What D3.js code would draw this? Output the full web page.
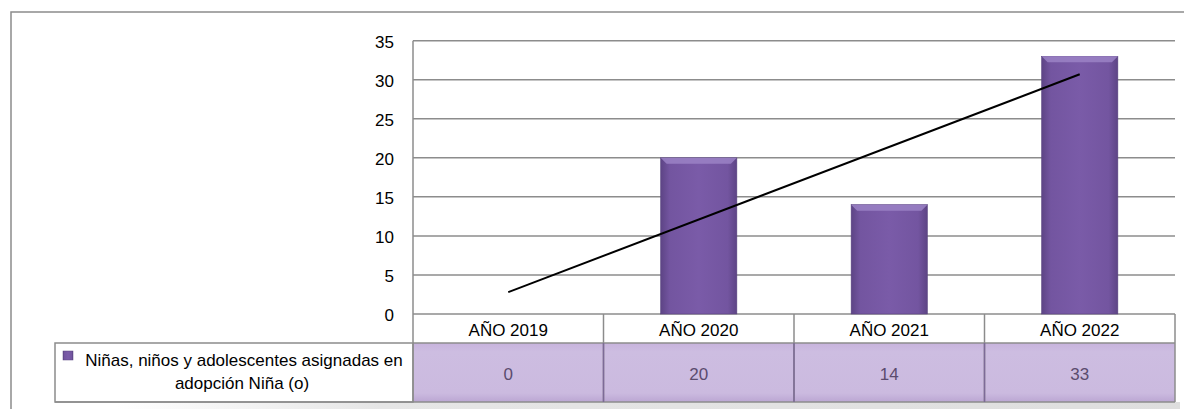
<!DOCTYPE html>
<html>
<head>
<meta charset="utf-8">
<script src="https://cdn.jsdelivr.net/npm/d3@7"></script>
<style>
  body { margin: 0; background: #fff; }
  text { font-family: "Liberation Sans", Arial, sans-serif; }
</style>
</head>
<body>
<script>
var categories = ["AÑO 2019", "AÑO 2020", "AÑO 2021", "AÑO 2022"];
var values = [0, 20, 14, 33];
var yTicks = [0, 5, 10, 15, 20, 25, 30, 35];
var seriesName = ["Niñas, niños y adolescentes asignadas en", "adopción Niña (o)"];

var svgWidth = 1184;
var svgHeight = 409;

var plot = { left: 413, right: 1175, top: 40.7, bottom: 314 };
var rowLabelBottom = 343;
var rowValueBottom = 402;
var legendLeft = 55;

var svg = d3.select("body")
  .append("svg")
  .attr("width", svgWidth)
  .attr("height", svgHeight);

var defs = svg.append("defs");

// bar gradient: darker at the sides
var barGrad = defs.append("linearGradient").attr("id", "barGrad")
  .attr("x1", "0").attr("x2", "1").attr("y1", "0").attr("y2", "0");
barGrad.append("stop").attr("offset", "0%").attr("stop-color", "#5d4485");
barGrad.append("stop").attr("offset", "12%").attr("stop-color", "#7355a0");
barGrad.append("stop").attr("offset", "50%").attr("stop-color", "#7a5ba8");
barGrad.append("stop").attr("offset", "88%").attr("stop-color", "#7355a0");
barGrad.append("stop").attr("offset", "100%").attr("stop-color", "#5d4485");

var rowGrad = defs.append("linearGradient").attr("id", "rowGrad")
  .attr("x1", "0").attr("x2", "0").attr("y1", "0").attr("y2", "1");
rowGrad.append("stop").attr("offset", "0%").attr("stop-color", "#c7b3dd");
rowGrad.append("stop").attr("offset", "15%").attr("stop-color", "#cdbde1");
rowGrad.append("stop").attr("offset", "85%").attr("stop-color", "#cbbadf");
rowGrad.append("stop").attr("offset", "100%").attr("stop-color", "#bba6d3");

var shadowGrad = defs.append("linearGradient").attr("id", "shadowGrad")
  .attr("x1", "0").attr("x2", "1").attr("y1", "0").attr("y2", "0");
shadowGrad.append("stop").attr("offset", "0%").attr("stop-color", "#ffffff");
shadowGrad.append("stop").attr("offset", "25%").attr("stop-color", "#e6e6e6");
shadowGrad.append("stop").attr("offset", "100%").attr("stop-color", "#dedede");

// outer chart border
svg.append("rect")
  .attr("x", 11).attr("y", 12)
  .attr("width", 1200).attr("height", 420)
  .attr("fill", "none")
  .attr("stroke", "#8c8c8c")
  .attr("stroke-width", 1.5);

// scales
var xCol = d3.scaleBand()
  .domain(categories)
  .range([plot.left, plot.right])
  .padding(0);

var xBar = d3.scaleBand()
  .domain(categories)
  .range([plot.left, plot.right])
  .paddingInner(0.6)
  .paddingOuter(0.3);

var y = d3.scaleLinear()
  .domain([0, 35])
  .range([plot.bottom, plot.top]);

// gridlines
svg.append("g")
  .selectAll("line")
  .data(yTicks)
  .enter()
  .append("line")
  .attr("x1", plot.left)
  .attr("x2", plot.right)
  .attr("y1", function (d) { return y(d); })
  .attr("y2", function (d) { return y(d); })
  .attr("stroke", "#8c8c8c")
  .attr("stroke-width", 1.5);

// y axis (labels only, line drawn below)
var leftAxis = d3.axisLeft(y)
  .tickValues(yTicks)
  .tickSize(0)
  .tickPadding(19);

var yAxisG = svg.append("g")
  .attr("transform", "translate(" + plot.left + ",0)")
  .call(leftAxis);
yAxisG.select(".domain").remove();
yAxisG.selectAll("text")
  .attr("dy", "0.38em")
  .style("font-size", "17px")
  .style("font-family", "'Liberation Sans', Arial, sans-serif")
  .attr("fill", "#000");

// bars
var bars = svg.append("g")
  .selectAll("g")
  .data(values)
  .enter()
  .append("g");

bars.append("rect")
  .attr("x", function (d, i) { return xBar(categories[i]); })
  .attr("y", function (d) { return y(d); })
  .attr("width", xBar.bandwidth())
  .attr("height", function (d) { return y(0) - y(d); })
  .attr("fill", "url(#barGrad)")
  .attr("stroke", "#5a4480")
  .attr("stroke-width", 0.6);

// top bevel highlight
bars.filter(function (d) { return d > 0; })
  .append("path")
  .attr("d", function (d, i) {
    var x0 = xBar(categories[values.indexOf(d)]);
    var w = xBar.bandwidth();
    var t = y(d);
    return "M" + x0 + "," + t + "L" + (x0 + w) + "," + t +
      "L" + (x0 + w - 6) + "," + (t + 6) + "L" + (x0 + 6) + "," + (t + 6) + "Z";
  })
  .attr("fill", "#9b82c6")
  .attr("opacity", 0.85);

// linear trend line from a least-squares fit over the values
var n = values.length;
var xs = d3.range(1, n + 1);
var mx = d3.mean(xs);
var my = d3.mean(values);
var slope = d3.sum(xs, function (x, i) { return (x - mx) * (values[i] - my); }) /
  d3.sum(xs, function (x) { return (x - mx) * (x - mx); });
var intercept = my - slope * mx;

var trendLine = d3.line()
  .x(function (d) { return xBar(categories[d - 1]) + xBar.bandwidth() / 2; })
  .y(function (d) { return y(intercept + slope * d); });

svg.append("path")
  .datum([1, n])
  .attr("d", trendLine)
  .attr("fill", "none")
  .attr("stroke", "#000")
  .attr("stroke-width", 2);

// data table: value row
svg.append("rect")
  .attr("x", legendLeft + 60)
  .attr("y", rowValueBottom)
  .attr("width", plot.right - legendLeft - 55)
  .attr("height", 7)
  .attr("fill", "url(#shadowGrad)");

svg.append("rect")
  .attr("x", plot.left)
  .attr("y", rowLabelBottom)
  .attr("width", plot.right - plot.left)
  .attr("height", rowValueBottom - rowLabelBottom)
  .attr("fill", "url(#rowGrad)");

// category label row
svg.append("g")
  .selectAll("text")
  .data(categories)
  .enter()
  .append("text")
  .attr("x", function (d) { return xCol(d) + xCol.bandwidth() / 2; })
  .attr("y", 336)
  .attr("text-anchor", "middle")
  .style("font-size", "17px")
  .attr("fill", "#000")
  .text(function (d) { return d; });

// value row text
svg.append("g")
  .selectAll("text")
  .data(values)
  .enter()
  .append("text")
  .attr("x", function (d, i) { return xCol(categories[i]) + xCol.bandwidth() / 2; })
  .attr("y", 380)
  .attr("text-anchor", "middle")
  .style("font-size", "17px")
  .attr("fill", "#5b4b6e")
  .text(function (d) { return d; });

// table lines
var grid = svg.append("g").attr("stroke-width", 1.5);
grid.append("line")
  .attr("x1", plot.left).attr("x2", plot.right)
  .attr("y1", rowLabelBottom).attr("y2", rowLabelBottom)
  .attr("stroke", "#8c8c8c");
grid.append("line")
  .attr("x1", legendLeft).attr("x2", plot.right)
  .attr("y1", rowValueBottom).attr("y2", rowValueBottom)
  .attr("stroke", "#8c8c8c");
grid.append("line")
  .attr("x1", plot.left).attr("x2", plot.left)
  .attr("y1", plot.top).attr("y2", rowValueBottom)
  .attr("stroke", "#8c8c8c");
grid.selectAll(".col")
  .data(categories.slice(1))
  .enter()
  .append("line")
  .attr("x1", function (d) { return xCol(d); })
  .attr("x2", function (d) { return xCol(d); })
  .attr("y1", plot.bottom)
  .attr("y2", rowValueBottom)
  .attr("stroke", "#8c8c8c");
grid.selectAll(".colv")
  .data(categories.slice(1))
  .enter()
  .append("line")
  .attr("x1", function (d) { return xCol(d); })
  .attr("x2", function (d) { return xCol(d); })
  .attr("y1", rowLabelBottom)
  .attr("y2", rowValueBottom)
  .attr("stroke", "#7d6a97");
grid.append("line")
  .attr("x1", plot.right).attr("x2", plot.right)
  .attr("y1", plot.bottom).attr("y2", rowValueBottom)
  .attr("stroke", "#8c8c8c");

// legend cell
svg.append("rect")
  .attr("x", legendLeft)
  .attr("y", rowLabelBottom)
  .attr("width", plot.left - legendLeft)
  .attr("height", rowValueBottom - rowLabelBottom)
  .attr("fill", "none")
  .attr("stroke", "#8c8c8c")
  .attr("stroke-width", 1.5);

svg.append("rect")
  .attr("x", 63)
  .attr("y", 351)
  .attr("width", 10)
  .attr("height", 9)
  .attr("fill", "url(#barGrad)")
  .attr("stroke", "#5a4480")
  .attr("stroke-width", 0.5);

svg.append("text")
  .attr("x", 244)
  .attr("y", 366)
  .attr("text-anchor", "middle")
  .style("font-size", "17px")
  .text(seriesName[0]);

svg.append("text")
  .attr("x", 242)
  .attr("y", 389)
  .attr("text-anchor", "middle")
  .style("font-size", "17px")
  .text(seriesName[1]);
</script>
</body>
</html>
